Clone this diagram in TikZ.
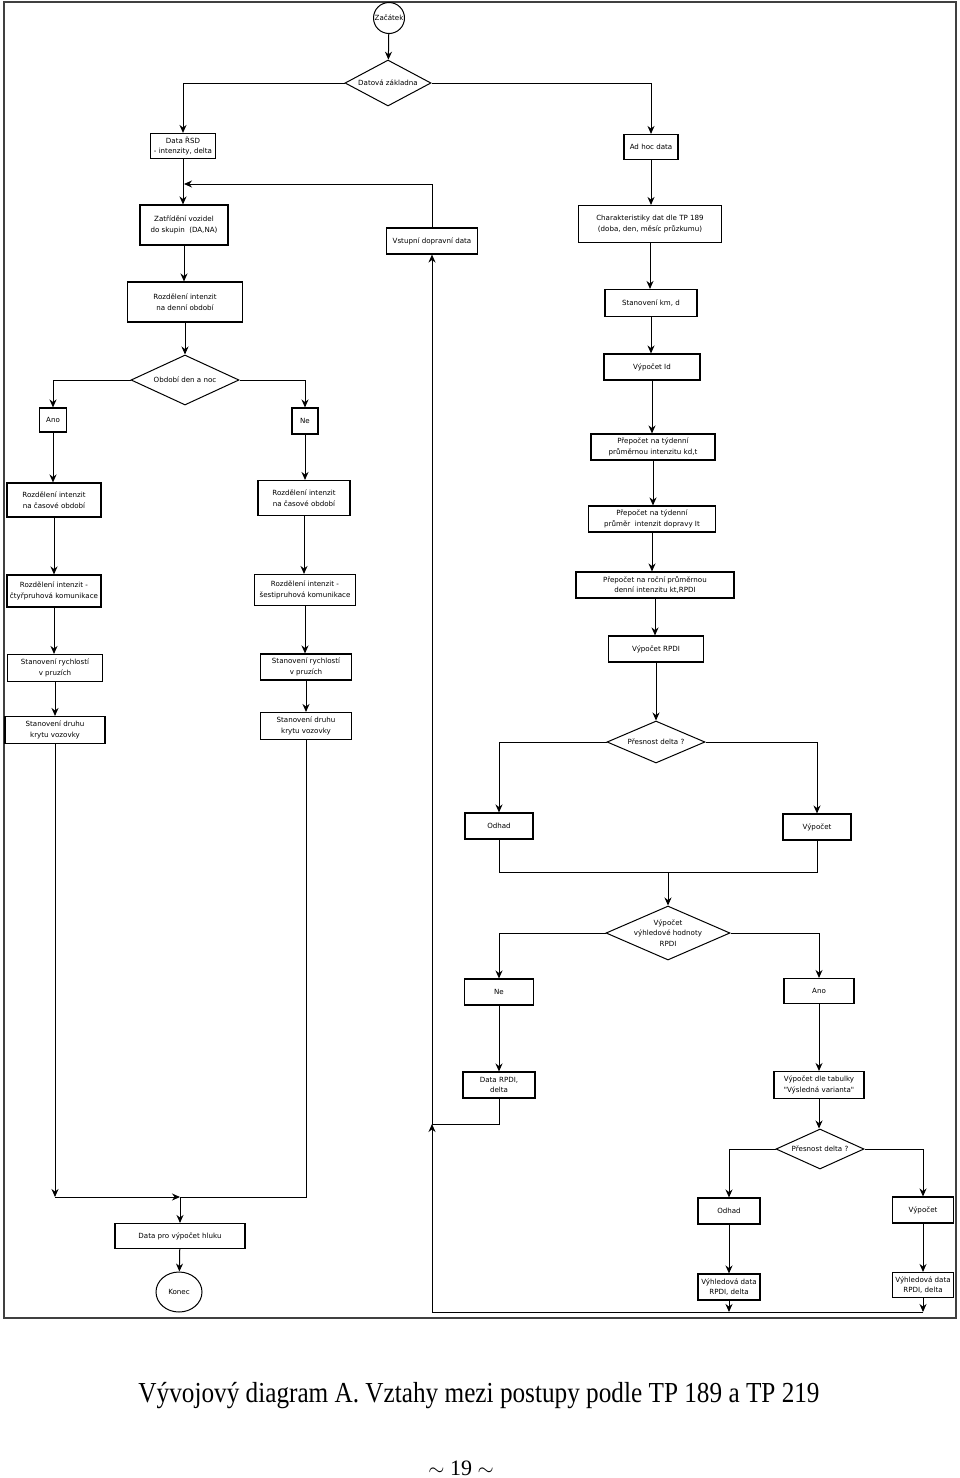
\documentclass[tikz,border=0pt]{standalone}
\usepackage{fontspec}
\setmainfont{Liberation Serif}
\newfontfamily\boxfont{DejaVu Sans}
\usetikzlibrary{arrows.meta,shapes.geometric}

\tikzset{
  proc/.style={draw, line width=1.1pt, align=center,
    font=\boxfont\fontsize{7.1}{10.5}\selectfont, inner sep=1pt},
  decis/.style={diamond, draw, line width=1pt, align=center,
    font=\boxfont\fontsize{7.1}{10.5}\selectfont, inner sep=0pt, shape aspect=2.5},
  term/.style={draw, line width=1pt, inner sep=0pt,
    font=\boxfont\fontsize{7.1}{10.5}\selectfont},
  flow/.style={line width=1pt, -{Stealth[length=8pt,width=7pt]}},
}

\begin{document}
\begin{tikzpicture}[x=1pt,y=-1pt]
    \useasboundingbox (0,0) rectangle (960,1478);
    \draw[line width=1.5pt,black!75] (4,2) rectangle (956,1318);

    % start and data sources
    \node[term,circle,minimum size=31] (start) at (389,18) {Začátek};
    \node[decis,minimum width=86,minimum height=46] (base) at (388,83) {Datová základna};
    \node[proc,minimum width=65,minimum height=25] (rsd) at (183,146) {Data ŘSD\\- intenzity, delta};
    \node[proc,minimum width=54,minimum height=25] (adhoc) at (651,147) {Ad hoc data};
    \node[proc,minimum width=88,minimum height=40] (trid) at (184,225) {Zatřídění vozidel\\do skupin\ \ (DA,NA)};
    \node[proc,minimum width=91,minimum height=26] (vstup) at (432,241) {Vstupní dopravní data};

    % left part
    \node[proc,minimum width=115,minimum height=40] (denni) at (185,302) {Rozdělení intenzit\\na denní období};
    \node[decis,minimum width=108,minimum height=50] (obd) at (185,380) {Období den a noc};
    \node[proc,minimum width=27,minimum height=24] (anoL) at (53,420) {Ano};
    \node[proc,minimum width=26,minimum height=26] (neL) at (305,421) {Ne};
    \node[proc,minimum width=94,minimum height=34] (casL) at (54,500) {Rozdělení intenzit\\na časové období};
    \node[proc,minimum width=92,minimum height=35] (casR) at (304,498) {Rozdělení intenzit\\na časové období};
    \node[proc,minimum width=94,minimum height=32] (ctyr) at (54,591) {Rozdělení intenzit -\\čtyřpruhová komunikace};
    \node[proc,minimum width=101,minimum height=31] (sest) at (305,590) {Rozdělení intenzit -\\šestipruhová komunikace};
    \node[proc,minimum width=95,minimum height=27] (rychL) at (55,668) {Stanovení rychlostí\\v pruzích};
    \node[proc,minimum width=91,minimum height=26] (rychR) at (306,667) {Stanovení rychlostí\\v pruzích};
    \node[proc,minimum width=100,minimum height=27] (krytL) at (55,730) {Stanovení druhu\\krytu vozovky};
    \node[proc,minimum width=91,minimum height=27] (krytR) at (306,726) {Stanovení druhu\\krytu vozovky};
    \node[proc,minimum width=130,minimum height=25] (hluk) at (180,1236) {Data pro výpočet hluku};
    \node[term,ellipse,minimum width=46,minimum height=40] (konec) at (179,1292) {Konec};
    \coordinate (mrg) at (184,184);
    \coordinate (sbL) at (180,1197);

    % right part
    \node[proc,minimum width=143,minimum height=37] (char) at (650,224) {Charakteristiky dat dle TP 189\\(doba, den, měsíc průzkumu)};
    \node[proc,minimum width=92,minimum height=27] (km) at (651,303) {Stanovení km, d};
    \node[proc,minimum width=96,minimum height=26] (id) at (652,367) {Výpočet Id};
    \node[proc,minimum width=124,minimum height=26] (kdt) at (653,447) {Přepočet na týdenní\\průměrnou intenzitu kd,t};
    \node[proc,minimum width=127,minimum height=26] (it) at (652,519) {Přepočet na týdenní\\průměr\ \ intenzit dopravy It};
    \node[proc,minimum width=158,minimum height=26] (rocni) at (655,585) {Přepočet na roční průměrnou\\denní intenzitu kt,RPDI};
    \node[proc,minimum width=95,minimum height=26] (rpdi) at (656,649) {Výpočet RPDI};
    \node[decis,minimum width=98,minimum height=42] (pres1) at (656,742) {Přesnost delta ?};
    \node[proc,minimum width=68,minimum height=26] (odh1) at (499,826) {Odhad};
    \node[proc,minimum width=68,minimum height=26] (vyp1) at (817,827) {Výpočet};
    \coordinate (sb1) at (668,872);
    \node[decis,minimum width=124,minimum height=54,inner xsep=-5pt,inner ysep=-9pt] (vyhl) at (668,933) {Výpočet\\výhledové hodnoty\\RPDI};
    \node[proc,minimum width=69,minimum height=26] (neR) at (499,992) {Ne};
    \node[proc,minimum width=70,minimum height=25] (anoR) at (819,991) {Ano};
    \node[proc,minimum width=72,minimum height=26] (drpdi) at (499,1085) {Data RPDI,\\delta};
    \node[proc,minimum width=90,minimum height=27] (tab) at (819,1085) {Výpočet dle tabulky\\"Výsledná varianta"};
    \node[decis,minimum width=88,minimum height=40] (pres2) at (820,1149) {Přesnost delta ?};
    \node[proc,minimum width=62,minimum height=26] (odh2) at (729,1211) {Odhad};
    \node[proc,minimum width=61,minimum height=26] (vyp2) at (923,1210) {Výpočet};
    \node[proc,minimum width=62,minimum height=26] (vdL) at (729,1287) {Výhledová data\\RPDI, delta};
    \node[proc,minimum width=61,minimum height=25] (vdR) at (923,1285) {Výhledová data\\RPDI, delta};
    \coordinate (bot) at (923,1312);
    \coordinate (ret) at (432,1124);

    % connectors, top
    \draw[flow] (start) -- (base);
    \draw[flow] (base.west) -| (rsd.north);
    \draw[flow] (base.east) -| (adhoc.north);
    \draw[flow] (rsd.south) -- (rsd.south |- trid.north);
    \draw[flow] (vstup.north) |- (mrg);
    \draw[flow] (trid.south) -- (trid.south |- denni.north);
    \draw[flow] (denni.south) -- (denni.south |- obd.north);

    % connectors, left
    \draw[flow] (obd.west) -| (anoL.north);
    \draw[flow] (obd.east) -| (neL.north);
    \draw[flow] (anoL.south) -- (anoL.south |- casL.north);
    \draw[flow] (casL.south) -- (casL.south |- ctyr.north);
    \draw[flow] (ctyr.south) -- (ctyr.south |- rychL.north);
    \draw[flow] (rychL.south) -- (rychL.south |- krytL.north);
    \draw[flow] (neL.south) -- (neL.south |- casR.north);
    \draw[flow] (casR.south) -- (casR.south |- sest.north);
    \draw[flow] (sest.south) -- (sest.south |- rychR.north);
    \draw[flow] (rychR.south) -- (rychR.south |- krytR.north);
    \draw[flow] (krytL.south) -- (krytL.south |- sbL);
    \draw[flow] (krytL.south |- sbL) -- (sbL);
    \draw[line width=1pt] (krytR.south) |- (sbL);
    \draw[flow] (sbL) -- (hluk);
    \draw[flow] (hluk) -- (konec);

    % connectors, right
    \draw[flow] (adhoc.south) -- (adhoc.south |- char.north);
    \draw[flow] (char.south) -- (char.south |- km.north);
    \draw[flow] (km.south) -- (km.south |- id.north);
    \draw[flow] (id.south) -- (id.south |- kdt.north);
    \draw[flow] (kdt.south) -- (kdt.south |- it.north);
    \draw[flow] (it.south) -- (it.south |- rocni.north);
    \draw[flow] (rocni.south) -- (rocni.south |- rpdi.north);
    \draw[flow] (rpdi.south) -- (rpdi.south |- pres1.north);
    \draw[flow] (pres1.west) -| (odh1.north);
    \draw[flow] (pres1.east) -| (vyp1.north);
    \draw[line width=1pt] (odh1.south) |- (sb1) -| (vyp1.south);
    \draw[flow] (sb1) -- (vyhl.north);
    \draw[flow] (vyhl.west) -| (neR.north);
    \draw[flow] (vyhl.east) -| (anoR.north);
    \draw[flow] (neR.south) -- (neR.south |- drpdi.north);
    \draw[flow] (anoR.south) -- (anoR.south |- tab.north);
    \draw[flow] (tab.south) -- (tab.south |- pres2.north);
    \draw[flow] (pres2.west) -| (odh2.north);
    \draw[flow] (pres2.east) -| (vyp2.north);
    \draw[flow] (odh2.south) -- (odh2.south |- vdL.north);
    \draw[flow] (vyp2.south) -- (vyp2.south |- vdR.north);
    \draw[flow] (vdL.south) -- (vdL.south |- bot);
    \draw[flow] (vdR.south) -- (bot);
    \draw[flow] (bot) -| (ret);
    \draw[line width=1pt] (drpdi.south) |- (ret);
    \draw[flow] (ret) -- (vstup.south);

    % caption
    \node[font=\fontsize{29}{32}\selectfont,anchor=base] (capt) at (479,1402) {\scalebox{0.87}[1]{Vývojový diagram A. Vztahy mezi postupy podle TP 189 a TP 219}};
    \node[font=\fontsize{22}{24}\selectfont,anchor=base] (pg) at (461,1475) {$\sim$ 19 $\sim$};
\end{tikzpicture}
\end{document}
